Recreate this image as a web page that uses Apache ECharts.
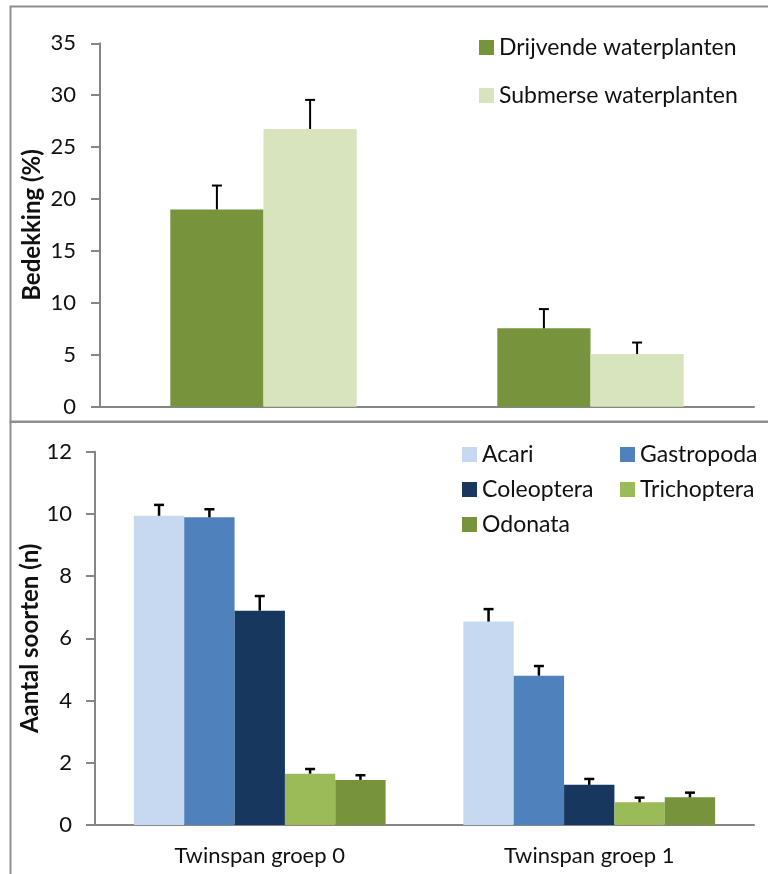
<!DOCTYPE html>
<html>
<head>
<meta charset="utf-8">
<script src="https://cdn.jsdelivr.net/npm/echarts@6/dist/echarts.min.js"></script>
<style>
html,body{margin:0;padding:0;background:#fff;}
#chart{width:768px;height:874px;}
</style>
</head>
<body>
<div id="chart"></div>
<script>
// ---- Data ----
const groups = ['Twinspan groep 0', 'Twinspan groep 1'];

const plantSeriesNames = ['Drijvende waterplanten', 'Submerse waterplanten'];
const drijvende = [19.0, 7.55];
const drijvendeErr = [2.3, 1.85];
const submerse = [26.75, 5.08];
const submerseErr = [2.8, 1.1];
const plantYTicks = [0, 5, 10, 15, 20, 25, 30, 35];

const taxaNames = ['Acari', 'Gastropoda', 'Coleoptera', 'Trichoptera', 'Odonata'];
const acari = [9.94, 6.54];
const acariErr = [0.35, 0.40];
const gastropoda = [9.89, 4.80];
const gastropodaErr = [0.26, 0.31];
const coleoptera = [6.89, 1.29];
const coleopteraErr = [0.47, 0.19];
const trichoptera = [1.65, 0.73];
const trichopteraErr = [0.15, 0.15];
const odonata = [1.45, 0.89];
const odonataErr = [0.15, 0.15];
const taxaYTicks = [0, 2, 4, 6, 8, 10, 12];

// ---- Styles ----
const FONT = 'Lato';
const plantColors = ['#77933C', '#D7E4BD'];
const taxaColors = ['#C6D9F1', '#4F81BD', '#17375E', '#9BBB59', '#77933C'];
const axisGray = '#868686';
const topGap = 0.43;
const botGap = 0.236;

function errSeries(values, errs, k, n, gap, axisIdx, lw) {
  return {
    type: 'custom',
    xAxisIndex: axisIdx, yAxisIndex: axisIdx,
    silent: true, z: 5,
    data: values.map((v, i) => [i, v, errs[i]]),
    renderItem: function (params, api) {
      const cat = api.value(0), val = api.value(1), err = api.value(2);
      const band = api.size([1, 0])[0];
      const barW = band * (1 - gap) / n;
      const base = api.coord([cat, val]);
      const top = api.coord([cat, val + err]);
      const x = base[0] + (k - (n - 1) / 2) * barW;
      const style = { stroke: '#000', lineWidth: lw };
      return {
        type: 'group',
        children: [
          { type: 'line', shape: { x1: x, y1: base[1], x2: x, y2: top[1] }, style: style },
          { type: 'line', shape: { x1: x - 5, y1: top[1], x2: x + 5, y2: top[1] }, style: style }
        ]
      };
    }
  };
}

const plantValues = [drijvende, submerse];
const plantErrs = [drijvendeErr, submerseErr];
const taxaValues = [acari, gastropoda, coleoptera, trichoptera, odonata];
const taxaErrs = [acariErr, gastropodaErr, coleopteraErr, trichopteraErr, odonataErr];

const series = [];
plantSeriesNames.forEach((name, k) => {
  series.push({
    name: name, type: 'bar', xAxisIndex: 0, yAxisIndex: 0,
    data: plantValues[k], itemStyle: { color: plantColors[k] },
    barGap: '0%', barCategoryGap: (topGap * 100) + '%'
  });
});
plantSeriesNames.forEach((name, k) => series.push(errSeries(plantValues[k], plantErrs[k], k, 2, topGap, 0, 2)));
taxaNames.forEach((name, k) => {
  series.push({
    name: name, type: 'bar', xAxisIndex: 1, yAxisIndex: 1,
    data: taxaValues[k], itemStyle: { color: taxaColors[k] },
    barGap: '0%', barCategoryGap: (botGap * 100) + '%'
  });
});
taxaNames.forEach((name, k) => series.push(errSeries(taxaValues[k], taxaErrs[k], k, 5, botGap, 1, 2.5)));

const labelStyle = { color: '#111', fontFamily: FONT, fontSize: 22 };
const legendText = { color: '#111', fontFamily: FONT, fontSize: 23, lineHeight: 20 };
const titleStyle = { color: '#111', fontFamily: FONT, fontSize: 24, fontWeight: 'bold' };

const option = {
  animation: false,
  backgroundColor: '#fff',
  textStyle: { fontFamily: FONT },
  graphic: [
    { type: 'rect', shape: { x: 10.5, y: 6.5, width: 780, height: 415 }, style: { fill: 'none', stroke: '#8e8e8e', lineWidth: 2 }, z: 100 },
    { type: 'rect', shape: { x: 10.5, y: 422, width: 780, height: 500 }, style: { fill: 'none', stroke: '#8e8e8e', lineWidth: 2 }, z: 100 }
  ],
  grid: [
    { left: 100, right: 14, top: 43.3, bottom: 874 - 406.7 },
    { left: 95, right: 14, top: 451.7, bottom: 874 - 825 }
  ],
  legend: [
    { data: plantSeriesNames, orient: 'vertical', left: 474, top: 31, itemWidth: 15, itemHeight: 15, itemGap: 25, icon: 'rect', textStyle: legendText, selectedMode: false },
    { data: [taxaNames[0], taxaNames[2], taxaNames[4]], orient: 'vertical', left: 457, top: 438, itemWidth: 15, itemHeight: 15, itemGap: 12, icon: 'rect', textStyle: legendText, selectedMode: false },
    { data: [taxaNames[1], taxaNames[3]], orient: 'vertical', left: 615, top: 438, itemWidth: 15, itemHeight: 15, itemGap: 12, icon: 'rect', textStyle: legendText, selectedMode: false }
  ],
  xAxis: [
    { type: 'category', gridIndex: 0, data: groups,
      axisLine: { lineStyle: { color: axisGray, width: 2 } },
      axisTick: { length: 7, lineStyle: { color: axisGray, width: 2 } },
      axisLabel: { show: false } },
    { type: 'category', gridIndex: 1, data: groups,
      axisLine: { lineStyle: { color: axisGray, width: 2 } },
      axisTick: { length: 8, lineStyle: { color: axisGray, width: 2 } },
      axisLabel: Object.assign({ margin: 20 }, labelStyle) }
  ],
  yAxis: [
    { type: 'value', gridIndex: 0, min: plantYTicks[0], max: plantYTicks[plantYTicks.length - 1], interval: plantYTicks[1] - plantYTicks[0],
      name: 'Bedekking (%)', nameLocation: 'middle', nameRotate: 90, nameGap: 56, nameMoveOverlap: false,
      nameTextStyle: titleStyle,
      axisLine: { show: true, lineStyle: { color: axisGray, width: 2 } },
      axisTick: { show: true, length: 9, lineStyle: { color: axisGray, width: 2 } },
      splitLine: { show: false },
      axisLabel: Object.assign({ margin: 24 }, labelStyle) },
    { type: 'value', gridIndex: 1, min: taxaYTicks[0], max: taxaYTicks[taxaYTicks.length - 1], interval: taxaYTicks[1] - taxaYTicks[0],
      name: 'Aantal soorten (n)', nameLocation: 'middle', nameRotate: 90, nameGap: 53, nameMoveOverlap: false,
      nameTextStyle: titleStyle,
      axisLine: { show: true, lineStyle: { color: axisGray, width: 2 } },
      axisTick: { show: true, length: 9, lineStyle: { color: axisGray, width: 2 } },
      splitLine: { show: false },
      axisLabel: Object.assign({ margin: 23 }, labelStyle) }
  ],
  series: series
};

const chart = echarts.init(document.getElementById('chart'), null, { renderer: 'canvas' });
chart.setOption(option);
</script>
</body>
</html>
